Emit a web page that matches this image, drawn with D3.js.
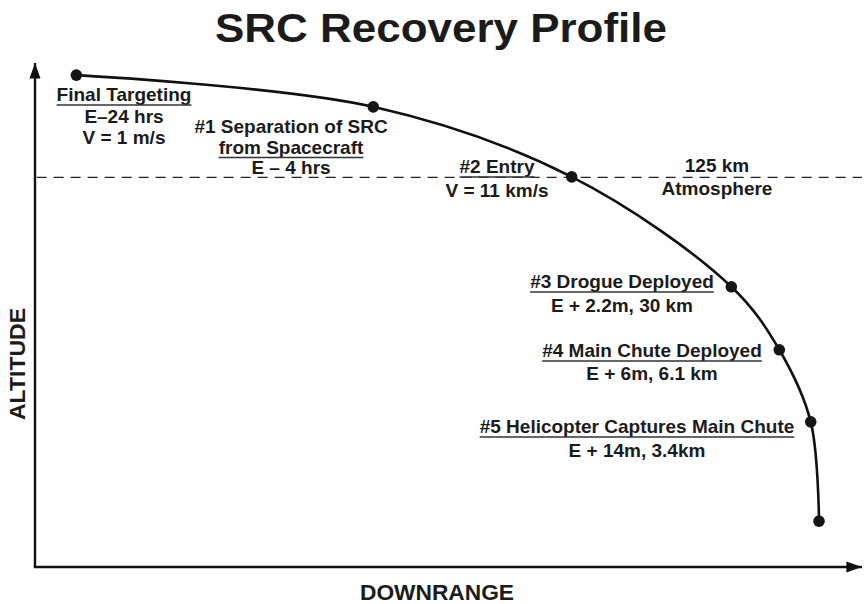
<!DOCTYPE html>
<html>
<head>
<meta charset="utf-8">
<script src="https://cdn.jsdelivr.net/npm/d3@7"></script>
<style>
    body { margin: 0; background: #fff; }
    svg text { font-family: "Liberation Sans", Arial, Helvetica, sans-serif; font-weight: bold; fill: #1b1b1b; }
</style>
</head>
<body>
<svg id="chart" width="864" height="604"></svg>
<script>
// trajectory events (schematic units: downrange / altitude, 0-1000)
const eventNames = ["Final Targeting", "#1 Separation", "#2 Entry", "#3 Drogue", "#4 Main Chute", "#5 Helicopter", "Landing"]
const downrange = [50, 409, 649, 842, 900, 938, 948]
const altitude = [976, 913, 774, 556, 431, 288, 91]

// entry interface (125 km) in the same units
const atmosphereAlt = 773

// annotation texts, underlined line index (-1 = none)
const labelLines = [
    ["Final Targeting", "E\u201324 hrs", "V = 1 m/s"],
    ["#1 Separation of SRC", "from Spacecraft", "E \u2013 4 hrs"],
    ["#2 Entry", "V = 11 km/s"],
    ["125 km", "Atmosphere"],
    ["#3 Drogue Deployed", "E + 2.2m, 30 km"],
    ["#4 Main Chute Deployed", "E + 6m, 6.1 km"],
    ["#5 Helicopter Captures Main Chute", "E + 14m, 3.4km"],
]
const underlined = [0, 1, 0, -1, 0, 0, 0]

// where each annotation sits (pixels: centre x, first baseline y, line gap)
const labelPos = [
    [124, 101, 21.5],
    [291, 133, 20.5],
    [497, 173, 24],
    [717, 172, 23],
    [622, 288, 24],
    [652, 357, 23],
    [637, 433, 24],
]

let svg = d3.select("#chart")
let x = d3.scaleLinear().domain([0, 1000]).range([35, 862])
let y = d3.scaleLinear().domain([0, 1000]).range([567, 63])

let defs = svg.append("defs")
defs.append("marker")
    .attr("id", "arrow")
    .attr("viewBox", "0 0 10 10")
    .attr("preserveAspectRatio", "none")
    .attr("refX", 10)
    .attr("refY", 5)
    .attr("markerWidth", 6.5)
    .attr("markerHeight", 4.6)
    .attr("markerUnits", "strokeWidth")
    .attr("orient", "auto")
    .append("path")
    .attr("d", "M0,0 L10,5 L0,10 Z")
    .attr("fill", "#111")

// title
svg.append("text")
    .attr("x", 441)
    .attr("y", 42)
    .attr("text-anchor", "middle")
    .attr("font-size", 41)
    .attr("textLength", 452)
    .attr("lengthAdjust", "spacingAndGlyphs")
    .text("SRC Recovery Profile")

// atmosphere line
svg.append("line")
    .attr("x1", x(2))
    .attr("x2", x(1000))
    .attr("y1", y(atmosphereAlt))
    .attr("y2", y(atmosphereAlt))
    .attr("stroke", "#222")
    .attr("stroke-width", 1.4)
    .attr("stroke-dasharray", "10,7")

// axes
svg.append("line")
    .attr("x1", x(0)).attr("y1", y(0))
    .attr("x2", x(0)).attr("y2", y(1000))
    .attr("stroke", "#111").attr("stroke-width", 2.4)
    .attr("marker-end", "url(#arrow)")
svg.append("line")
    .attr("x1", x(0) - 1.2).attr("y1", y(0))
    .attr("x2", x(1000)).attr("y2", y(0))
    .attr("stroke", "#111").attr("stroke-width", 2.4)
    .attr("marker-end", "url(#arrow)")

svg.append("text")
    .attr("x", 437)
    .attr("y", 600)
    .attr("text-anchor", "middle")
    .attr("font-size", 22)
    .attr("textLength", 154)
    .attr("lengthAdjust", "spacingAndGlyphs")
    .text("DOWNRANGE")

svg.append("text")
    .attr("transform", "translate(25,364) rotate(-90)")
    .attr("text-anchor", "middle")
    .attr("font-size", 22)
    .attr("textLength", 112)
    .attr("lengthAdjust", "spacingAndGlyphs")
    .text("ALTITUDE")

// trajectory
let pts = downrange.map((d, i) => [x(d), y(altitude[i])])
let line = d3.line().curve(d3.curveCatmullRom.alpha(0.5))

svg.append("path")
    .attr("d", line(pts))
    .attr("fill", "none")
    .attr("stroke", "#111")
    .attr("stroke-width", 2.6)

svg.append("g")
    .selectAll("circle")
    .data(pts)
    .enter()
    .append("circle")
    .attr("cx", (d) => d[0])
    .attr("cy", (d) => d[1])
    .attr("r", 5.8)
    .attr("fill", "#151515")

// annotations
let notes = svg.append("g").attr("class", "notes")
labelLines.forEach((lines, i) => {
    let [cx, cy, gap] = labelPos[i]
    lines.forEach((t, j) => {
        let txt = notes.append("text")
            .attr("x", cx)
            .attr("y", cy + j * gap)
            .attr("text-anchor", "middle")
            .attr("font-size", 19)
            .text(t)
        if (underlined[i] == j) {
            let w = txt.node().getComputedTextLength()
            notes.append("line")
                .attr("x1", cx - w / 2)
                .attr("x2", cx + w / 2)
                .attr("y1", cy + j * gap + 4)
                .attr("y2", cy + j * gap + 4)
                .attr("stroke", "#333")
                .attr("stroke-width", 1.4)
        }
    })
})
</script>
</body>
</html>
